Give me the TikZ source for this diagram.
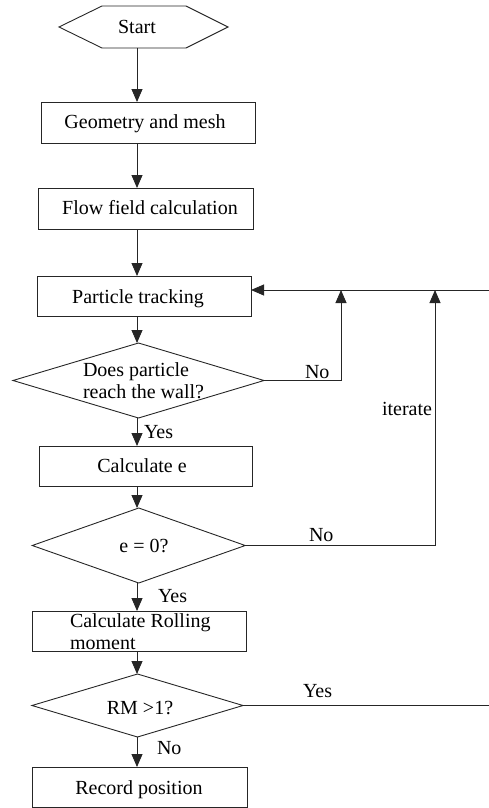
\documentclass[tikz,border=0pt]{standalone}
\usepackage{fontspec}
\setmainfont{Liberation Serif}
\usetikzlibrary{shapes.geometric,arrows.meta,calc}
\begin{document}
\begin{tikzpicture}[x=1pt,y=-1pt,
  every node/.style={inner sep=0pt, outer sep=0pt},
  txt/.style={font=\fontsize{20}{22}\selectfont, text=black},
  line/.style={line width=0.9pt, draw=black!85},
  arr/.style={line, -{Triangle[length=13pt,width=11pt]}},
  procbox/.style={rectangle, line, minimum height=40},
  decision/.style={diamond, line},
  lbl/.style={txt, anchor=base west}]

\useasboundingbox (0,0) rectangle (489,808);

% vertical spine that carries the main flow
\coordinate (spine) at (137,0);

% start terminator (hexagon drawn around an empty node)
\node[minimum width=169, minimum height=42] (starthex) at (143.5,27) {};
\draw[line] (starthex.west) -- ($(starthex.north west)+(43,0)$)
  -- ($(starthex.north east)+(-42,0)$) -- (starthex.east)
  -- ($(starthex.south east)+(-42,0)$) -- ($(starthex.south west)+(43,0)$)
  -- cycle;
\node[txt, anchor=base] (start-t) at (137,34) {Start};

% process boxes
\node[procbox, minimum width=214, minimum height=41] (geo) at (148,122.5) {};
\node[txt, anchor=base] (geo-t) at (145,128) {Geometry and mesh};

\node[procbox, minimum width=215, minimum height=41] (flow) at (145.5,208.5) {};
\node[txt, anchor=base] (flow-t) at (150,214.3) {Flow field calculation};

\node[procbox, minimum width=214] (pt) at (144,296) {};
\node[txt, anchor=base] (pt-t) at (138,303.3) {Particle tracking};

\node[decision, minimum width=251, minimum height=75] (d1) at (138.5,380.5) {};
\node[txt, anchor=west, align=left] (d1-t) at (83,380.5) {Does particle\\reach the wall?};

\node[procbox, minimum width=213] (ce) at (145.5,466) {};
\node[txt, anchor=base] (ce-t) at (142,472.3) {Calculate e};

\node[decision, minimum width=213, minimum height=75] (d2) at (138.75,545.5) {};
\node[txt, anchor=base] (d2-t) at (144,552) {e = 0?};

\node[procbox, minimum width=214] (roll) at (139,631) {};
\node[txt, anchor=west, align=left] (roll-t) at (70,632) {Calculate Rolling\\moment};

\node[decision, minimum width=211, minimum height=63] (d3) at (137.5,705.5) {};
\node[txt, anchor=base] (d3-t) at (140,714) {RM >1?};

\node[procbox, minimum width=215] (rec) at (139.5,787) {};
\node[txt, anchor=base] (rec-t) at (139,794) {Record position};

% main downward flow
\draw[arr] (starthex.south -| spine) -- (geo.north -| spine);
\draw[arr] (geo.south -| spine) -- (flow.north -| spine);
\draw[arr] (flow.south -| spine) -- (pt.north -| spine);
\draw[arr] (pt.south -| spine) -- (d1.north -| spine);
\draw[arr] (d1.south -| spine) -- (ce.north -| spine);
\draw[arr] (ce.south -| spine) -- (d2.north -| spine);
\draw[arr] (d2.south -| spine) -- (roll.north -| spine);
\draw[arr] (roll.south -| spine) -- (d3.north -| spine);
\draw[arr] (d3.south -| spine) -- (rec.north -| spine);

% feedback lines into particle tracking
\coordinate (loopin) at (489,290);
\coordinate (bus1) at (341,290);
\coordinate (bus2) at (435,290);
\coordinate (rmout) at (489,705.5);
\draw[arr] (loopin) -- (pt.east |- loopin);
\draw[arr] (d1.east) -| (bus1);
\draw[arr] (d2.east) -| (bus2);
\draw[line] (d3.east) -- (rmout);

% branch labels
\node[lbl] (l-yes1) at (144,438) {Yes};
\node[lbl] (l-no1) at (305,378) {No};
\node[lbl] (l-iter) at (382,415) {iterate};
\node[lbl] (l-no2) at (309,541.5) {No};
\node[lbl] (l-yes2) at (158,602) {Yes};
\node[lbl] (l-yes3) at (303,697) {Yes};
\node[lbl] (l-no3) at (157,754) {No};
\end{tikzpicture}
\end{document}
